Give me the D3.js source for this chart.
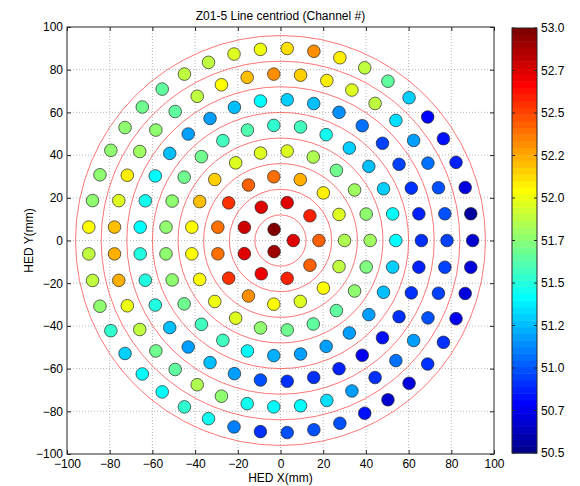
<!DOCTYPE html>
<meta charset="utf-8">
<style>
body { margin: 0; background: #fff; }
svg text { font-family: "Liberation Sans", Arial, sans-serif; font-size: 12px; fill: #000; }
</style>
<body>
<script src="https://cdn.jsdelivr.net/npm/d3@7"></script>
<script>
// channel centroid per ring, listed counter-clockwise starting at angle 0
var ringRadii = [6, 18, 30, 42, 54, 66, 78, 90];
var ring1 = [52.75, 53.0, 52.9];
var ring2 = [52.45, 52.6, 52.75, 52.75, 52.8, 52.75, 52.7, 52.6, 52.45];
var ring3 = [51.85, 51.95, 52.1, 52.25, 52.4, 52.45, 52.55, 52.4, 52.4, 52.55, 52.3, 52.05, 51.95, 52.05, 51.9];
var ring4 = [51.8, 51.75, 51.8, 51.7, 51.85, 51.95, 51.95, 51.95, 52.15, 52.2, 52.05, 52.05, 52.05, 52.0, 51.95,
             51.75, 51.7, 51.65, 51.65, 51.75, 51.72];
var ring5 = [51.4, 51.42, 51.3, 51.28, 51.32, 51.44, 51.57, 51.55, 51.6, 51.57, 51.7, 51.7, 51.78, 51.75, 51.75,
             51.75, 51.7, 51.57, 51.57, 51.4, 51.22, 51.17, 51.2, 51.17, 51.2, 51.28, 51.32];
var ring6 = [50.9, 50.87, 50.9, 50.93, 50.93, 51.05, 51.15, 51.28, 51.3, 51.42, 51.27, 51.2, 51.17, 51.28, 51.42,
             51.45, 51.42, 51.48, 51.48, 51.48, 51.28, 51.17, 51.28, 51.17, 50.97, 50.9, 50.9, 50.87, 50.76, 50.85,
             50.9, 50.9, 50.87];
var ring7 = [50.93, 51.0, 51.0, 51.05, 51.2, 51.33, 51.88, 51.95, 52.1, 52.15, 52.3, 52.2, 52.05, 51.9, 51.65,
             51.75, 51.82, 52.1, 51.95, 52.2, 52.25, 52.25, 52.0, 51.9, 51.7, 51.65, 51.85, 51.75, 51.45, 51.42,
             51.42, 51.33, 51.17, 50.9, 51.05, 51.2, 51.0, 50.93, 50.93];
var ring8 = [50.68, 50.55, 50.7, 50.87, 50.84, 50.8, 51.32, 51.65, 51.9, 52.08, 52.3, 52.12, 52.0, 51.95, 51.9,
             51.88, 51.65, 51.7, 51.78, 51.78, 51.75, 51.75, 52.03, 51.88, 51.9, 51.75, 51.52, 51.3, 51.42, 51.42,
             51.52, 51.46, 51.12, 50.9, 50.97, 51.0, 51.0, 50.83, 50.68, 50.72, 50.9, 50.9, 50.75, 50.72, 50.72];
var rings = [ring1, ring2, ring3, ring4, ring5, ring6, ring7, ring8];

var guideRadii = [12, 24, 36, 48, 60, 72, 84, 96];
var axisTicks = [-100, -80, -60, -40, -20, 0, 20, 40, 60, 80, 100];
var cbarTicks = [53.0, 52.75, 52.5, 52.25, 52.0, 51.75, 51.5, 51.25, 51.0, 50.75, 50.5];
var cbarLabels = ["53.0", "52.7", "52.5", "52.2", "52.0", "51.7", "51.5", "51.2", "51.0", "50.7", "50.5"];
var cmin = 50.5, cmax = 53.0;

// matlab jet(64)
function jet(j) {
  function u(k) { return k <= 16 ? k / 16 : (k <= 31 ? 1 : (48 - k) / 16); }
  var r = j >= 25 ? u(j - 24) : 0,
      g = (j >= 9 && j <= 55) ? u(j - 8) : 0,
      b = j <= 39 ? u(j + 8) : 0;
  return d3.rgb(r * 255, g * 255, b * 255).toString();
}
function colorOf(v) {
  var j = Math.floor((v - cmin) / (cmax - cmin) * 64) + 1;
  return jet(Math.max(1, Math.min(64, j)));
}

var svg = d3.select("body").append("svg")
    .attr("width", 580)
    .attr("height", 486);

var x = d3.scaleLinear().domain([-100, 100]).range([67, 494]),
    y = d3.scaleLinear().domain([-100, 100]).range([454, 27]);

// grid
var grid = svg.append("g")
    .attr("stroke", "#9a9a9a")
    .attr("stroke-width", 0.7)
    .attr("stroke-dasharray", "1,2");
grid.selectAll(".gx").data(axisTicks.slice(1, -1)).enter().append("line")
    .attr("x1", x).attr("x2", x).attr("y1", y(-100)).attr("y2", y(100));
grid.selectAll(".gy").data(axisTicks.slice(1, -1)).enter().append("line")
    .attr("y1", y).attr("y2", y).attr("x1", x(-100)).attr("x2", x(100));

// red guide circles
svg.append("g").selectAll("circle").data(guideRadii).enter().append("circle")
    .attr("cx", x(0)).attr("cy", y(0))
    .attr("r", function(d) { return x(d) - x(0); })
    .attr("fill", "none")
    .attr("stroke", "#ff3b3b")
    .attr("stroke-width", 0.7);

// channel points
var points = [];
rings.forEach(function(vals, k) {
  vals.forEach(function(v, i) {
    var a = 2 * Math.PI * i / vals.length;
    points.push({px: ringRadii[k] * Math.cos(a), py: ringRadii[k] * Math.sin(a), v: v});
  });
});
svg.append("g").selectAll("circle").data(points).enter().append("circle")
    .attr("cx", function(d) { return x(d.px); })
    .attr("cy", function(d) { return y(d.py); })
    .attr("r", 6.3)
    .attr("fill", function(d) { return colorOf(d.v); })
    .attr("stroke", "#262626")
    .attr("stroke-width", 0.7);

// axes
function styleAxis(g) {
  g.select(".domain").remove();
  g.selectAll(".tick line").attr("stroke", "#262626");
  g.selectAll("text").style("font-size", "12px");
}
svg.append("g").attr("transform", "translate(0," + y(-100) + ")")
    .call(d3.axisBottom(x).tickValues(axisTicks).tickSize(-4).tickPadding(5))
    .call(styleAxis);
svg.append("g").attr("transform", "translate(0," + y(100) + ")")
    .call(d3.axisTop(x).tickValues(axisTicks).tickSize(-4).tickFormat(""))
    .call(styleAxis);
svg.append("g").attr("transform", "translate(" + x(-100) + ",0)")
    .call(d3.axisLeft(y).tickValues(axisTicks).tickSize(-4).tickPadding(4))
    .call(styleAxis);
svg.append("g").attr("transform", "translate(" + x(100) + ",0)")
    .call(d3.axisRight(y).tickValues(axisTicks).tickSize(-4).tickFormat(""))
    .call(styleAxis);

svg.append("rect")
    .attr("x", x(-100)).attr("y", y(100))
    .attr("width", x(100) - x(-100)).attr("height", y(-100) - y(100))
    .attr("fill", "none").attr("stroke", "#262626").attr("stroke-width", 1);

svg.append("text").attr("x", x(0)).attr("y", 20).attr("text-anchor", "middle")
    .text("Z01-5 Line centriod (Channel #)");
svg.append("text").attr("x", x(0)).attr("y", 482).attr("text-anchor", "middle")
    .text("HED X(mm)");
svg.append("text").attr("transform", "translate(33," + y(0) + ") rotate(-90)")
    .attr("text-anchor", "middle")
    .text("HED Y(mm)");

// colorbar
var cb = d3.scaleLinear().domain([cmin, cmax]).range([453, 28]),
    cbx0 = 512, cbx1 = 537;
var bands = d3.range(1, 65);
svg.append("g").selectAll("rect").data(bands).enter().append("rect")
    .attr("x", cbx0)
    .attr("y", function(j) { return cb(cmin + j * (cmax - cmin) / 64); })
    .attr("width", cbx1 - cbx0)
    .attr("height", (cb(cmin) - cb(cmax)) / 64 + 0.5)
    .attr("fill", jet);
svg.append("rect")
    .attr("x", cbx0).attr("y", cb(cmax))
    .attr("width", cbx1 - cbx0).attr("height", cb(cmin) - cb(cmax))
    .attr("fill", "none").attr("stroke", "#262626").attr("stroke-width", 1);
var cbt = svg.append("g").selectAll("g").data(cbarTicks).enter().append("g");
cbt.append("line").attr("x1", cbx0).attr("x2", cbx0 + 3)
    .attr("y1", cb).attr("y2", cb).attr("stroke", "#262626");
cbt.append("line").attr("x1", cbx1 - 3).attr("x2", cbx1)
    .attr("y1", cb).attr("y2", cb).attr("stroke", "#262626");
cbt.append("text").attr("x", cbx1 + 4).attr("y", function(d) { return cb(d) + 4; })
    .text(function(d, i) { return cbarLabels[i]; });
</script>
